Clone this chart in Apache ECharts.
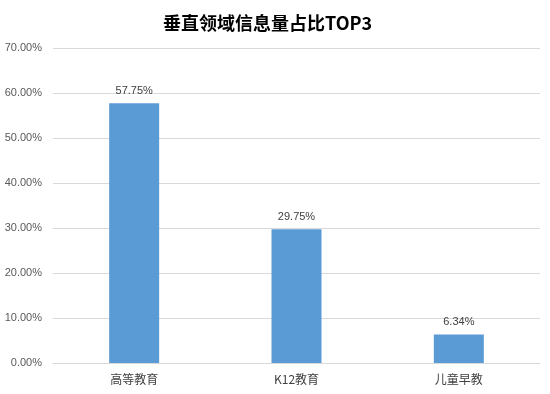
<!DOCTYPE html>
<html><head><meta charset="utf-8">
<script src="https://cdn.jsdelivr.net/npm/echarts@6/dist/echarts.min.js"></script>
<style>html,body{margin:0;padding:0;background:#fff}#c{width:550px;height:394px}</style>
</head><body><div id="c"></div>
<script>
const categories = ['高等教育', 'K12教育', '儿童早教'];
const values = [57.75, 29.75, 6.34];
const titleText = '垂直领域信息量占比TOP3';

const chart = echarts.init(document.getElementById('c'), null, {renderer: 'canvas'});
chart.setOption({
  animation: false,
  backgroundColor: '#fff',
  title: {
    text: titleText, left: 158, top: 9,
    textStyle: {fontSize: 18, fontWeight: 'bold', color: '#000', fontFamily: '"Noto Sans CJK SC", sans-serif'}
  },
  grid: {left: 53, right: 10, top: 48, bottom: 31, containLabel: false},
  xAxis: {
    type: 'category', data: categories,
    axisLine: {show: true, lineStyle: {color: '#d9d9d9'}},
    axisTick: {show: false},
    axisLabel: {color: '#404040', fontSize: 12, margin: 10, fontFamily: '"Noto Sans CJK SC", sans-serif'}
  },
  yAxis: {
    type: 'value', min: 0, max: 70, interval: 10,
    axisLine: {show: false}, axisTick: {show: false},
    splitLine: {lineStyle: {color: '#d9d9d9'}},
    axisLabel: {color: '#595959', fontSize: 11, margin: 11, fontFamily: 'Liberation Sans, sans-serif',
      formatter: v => v.toFixed(2) + '%'}
  },
  series: [{
    type: 'bar', data: values, barWidth: 50,
    itemStyle: {color: '#5b9bd5'},
    label: {show: true, position: 'top', distance: 7, color: '#404040', fontSize: 11,
      fontFamily: 'Liberation Sans, sans-serif', formatter: p => p.value.toFixed(2) + '%'}
  }]
});
</script></body></html>
